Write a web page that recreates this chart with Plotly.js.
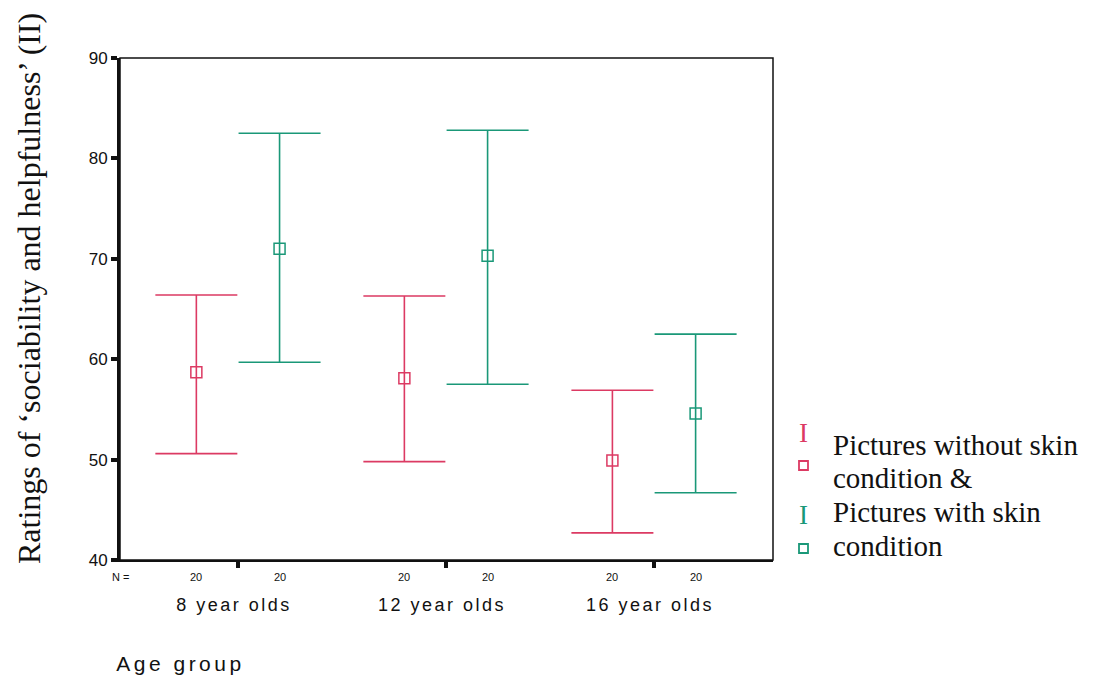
<!DOCTYPE html>
<html>
<head>
<meta charset="utf-8">
<script src="https://cdn.plot.ly/plotly-3.0.1.min.js"></script>
<style>html,body{margin:0;padding:0;background:#fff;}#chart{width:1094px;height:678px;}</style>
</head>
<body>
<div id="chart"></div>
<script>
// ---- data ----
var groups = ["8 year olds", "12 year olds", "16 year olds"];
var groupPos = [1, 2, 3];
var withoutMean = [58.7, 58.1, 49.9];
var withoutUpper = [66.4, 66.3, 56.9];
var withoutLower = [50.6, 49.8, 42.7];
var withMean = [71.0, 70.3, 54.6];
var withUpper = [82.5, 82.8, 62.5];
var withLower = [59.7, 57.5, 46.7];
var nWithout = [20, 20, 20];
var nWith = [20, 20, 20];
var yTicks = [40, 50, 60, 70, 80, 90];
var legendLabels = ["Pictures without skin", "condition &", "Pictures with skin", "condition"];

var RED = "#dc3a63";
var GREEN = "#1a9878";
var OFF = 0.2;

function sub(a, b) { return a.map(function (v, i) { return v - b[i]; }); }
var xWithout = groupPos.map(function (p) { return p - OFF; });
var xWith = groupPos.map(function (p) { return p + OFF; });

function trace(x, mean, up, lo, color) {
  return {
    type: "scatter", mode: "markers", x: x, y: mean,
    marker: { symbol: "square-open", size: 11, color: color, line: { width: 1.5, color: color } },
    error_y: { type: "data", symmetric: false, array: sub(up, mean), arrayminus: sub(mean, lo),
      color: color, thickness: 1.6, width: 41 },
    showlegend: false, hoverinfo: "skip"
  };
}

var data = [
  trace(xWithout, withoutMean, withoutUpper, withoutLower, RED),
  trace(xWith, withMean, withUpper, withLower, GREEN)
];

// plot area in pixels: l=120, r=773, t=58, b=560
var L = 120, R = 773, T = 58, B = 560;
function px(x) { return (x - L) / (R - L); }
function py(y) { return (B - y) / (B - T); }

var SPACED = 2.5; // letter spacing for axis category labels
var annotations = [];
annotations.push({ xref: "paper", yref: "paper", x: px(131), y: py(577), text: "N =", showarrow: false,
  xanchor: "right", yanchor: "middle", font: { family: "Liberation Sans, Arial", size: 11, color: "#111" } });
for (var i = 0; i < groups.length; i++) {
  annotations.push({ xref: "x", yref: "paper", x: xWithout[i], y: py(577), text: String(nWithout[i]), showarrow: false,
    yanchor: "middle", font: { family: "Liberation Sans, Arial", size: 11, color: "#111" } });
  annotations.push({ xref: "x", yref: "paper", x: xWith[i], y: py(577), text: String(nWith[i]), showarrow: false,
    yanchor: "middle", font: { family: "Liberation Sans, Arial", size: 11, color: "#111" } });
  annotations.push({ xref: "x", yref: "paper", x: groupPos[i], y: py(605), text: groups[i], showarrow: false,
    yanchor: "middle", xshift: -4,
    font: { family: "Liberation Sans, Arial", size: 18, color: "#111" } });
}
annotations.push({ xref: "paper", yref: "paper", x: px(116), y: py(663), text: "Age group", showarrow: false,
  xanchor: "left", yanchor: "middle", xshift: 14, font: { family: "Liberation Sans, Arial", size: 21, color: "#111" } });
// y title
annotations.push({ xref: "paper", yref: "paper", x: px(29), y: py(289), text: "Ratings of \u2018sociability and helpfulness\u2019 (II)",
  showarrow: false, textangle: -90, xanchor: "center", yanchor: "middle",
  font: { family: "Liberation Serif, Times New Roman", size: 32, color: "#111" } });
// legend texts
var legY = [445, 478, 512, 546];
for (var j = 0; j < legendLabels.length; j++) {
  annotations.push({ xref: "paper", yref: "paper", x: px(831), y: py(legY[j]), text: legendLabels[j], showarrow: false,
    xanchor: "left", yanchor: "middle", font: { family: "Liberation Serif, Times New Roman", size: 29, color: "#111" } });
}
// legend I symbols
annotations.push({ xref: "paper", yref: "paper", x: px(803), y: py(433), text: "I", showarrow: false,
  xanchor: "center", yanchor: "middle", font: { family: "Liberation Serif, Times New Roman", size: 27, color: RED } });
annotations.push({ xref: "paper", yref: "paper", x: px(803), y: py(515), text: "I", showarrow: false,
  xanchor: "center", yanchor: "middle", font: { family: "Liberation Serif, Times New Roman", size: 27, color: GREEN } });

var shapes = [
  { type: "rect", xref: "paper", yref: "paper", x0: 0, x1: 1, y0: 0, y1: 1, line: { color: "#111", width: 1.5 } },
  { type: "rect", xref: "paper", yref: "paper", x0: px(799), x1: px(808), y0: py(470), y1: py(461), line: { color: RED, width: 1.8 } },
  { type: "rect", xref: "paper", yref: "paper", x0: px(799), x1: px(808), y0: py(553), y1: py(544), line: { color: GREEN, width: 1.8 } }
];

var layout = {
  width: 1094, height: 678,
  margin: { l: L, r: 1094 - R, t: T, b: 678 - B, pad: 0 },
  paper_bgcolor: "#fff", plot_bgcolor: "#fff",
  showlegend: false,
  xaxis: {
    range: [0.433, 3.572], showgrid: false, zeroline: false,
    showline: true, linecolor: "#111", linewidth: 2,
    tickmode: "array", tickvals: groupPos, ticktext: ["", "", ""],
    ticks: "outside", ticklen: 6, tickwidth: 4, tickcolor: "#111", showticklabels: false
  },
  yaxis: {
    range: [40, 90], showgrid: false, zeroline: false,
    showline: true, linecolor: "#111", linewidth: 3,
    tickmode: "array", tickvals: yTicks,
    ticks: "outside", ticklen: 6, tickwidth: 4, tickcolor: "#111",
    tickfont: { family: "Liberation Sans, Arial", size: 17, color: "#111" },
    title: { text: "" }
  },
  annotations: annotations,
  shapes: shapes
};

Plotly.newPlot("chart", data, layout, { displayModeBar: false, staticPlot: true }).then(function () {
  var spaced = groups.concat(["Age group"]);
  document.querySelectorAll("#chart .annotation-text").forEach(function (t) {
    if (spaced.indexOf(t.textContent) >= 0) {
      t.style.letterSpacing = (t.textContent === "Age group" ? 3.5 : SPACED) + "px";
    }
  });
});
</script>
</body>
</html>
